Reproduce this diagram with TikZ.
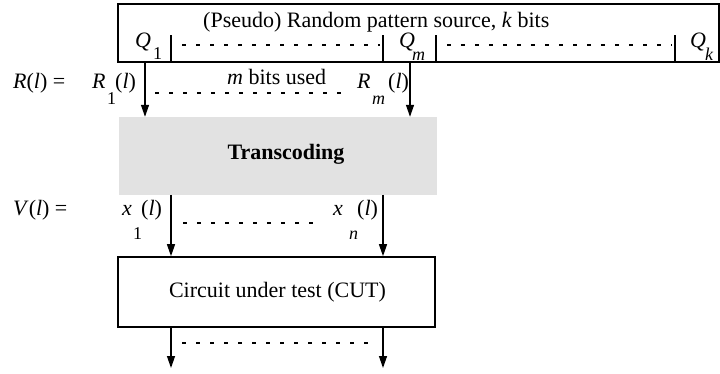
\documentclass[tikz,border=0pt]{standalone}
\usepackage{fontspec}
\setmainfont{Liberation Serif}
\usetikzlibrary{arrows.meta}
\definecolor{tgray}{RGB}{226,226,226}
\begin{document}
\begin{tikzpicture}[x=1pt,y=1pt,
  lbl/.style={inner sep=0,anchor=base west,font=\fontsize{22}{26}\selectfont},
  sbs/.style={inner sep=0,anchor=base west,font=\fontsize{18}{20}\selectfont\itshape},
  sbn/.style={inner sep=0,anchor=base west,font=\fontsize{18}{20}\selectfont},
  arr/.style={line width=1.3pt,-{Triangle[length=12pt,width=8pt]}},
  dots/.style={line width=1.6pt,dash pattern=on 4pt off 10pt},
  tick/.style={line width=1.3pt},
  boxst/.style={draw,line width=1.6pt,inner sep=0}]
\useasboundingbox (0,0) rectangle (720,-374);

% boxes
\node[boxst,minimum width=601pt,minimum height=58pt] (src) at (418.5,-33) {};
\node[fill=tgray,inner sep=0,minimum width=318pt,minimum height=78pt] (trans) at (278,-156) {};
\node[boxst,minimum width=317pt,minimum height=70pt] (cut) at (276.5,-292) {};

% texts in boxes
\node[lbl] (title) at (203,-28) {(Pseudo) Random pattern source, \textit{k} bits};
\node[lbl,anchor=base,font=\fontsize{22}{26}\selectfont\bfseries] (transtxt) at (286,-160) {Transcoding};
\node[lbl,anchor=base] (cuttxt) at (277.5,-297) {Circuit under test (CUT)};

% ticks in source box
\coordinate (t1) at (171,-62);
\coordinate (t2) at (383,-62);
\coordinate (t3) at (436,-62);
\coordinate (t4) at (675,-62);
\foreach \t in {t1,t2,t3,t4} \draw[tick] (\t) -- ++(0,27);

% Q labels
\node[lbl] (q1) at (135,-48) {\textit{Q}};
\node[sbn] (q1s) at (153,-60) {1};
\node[lbl] (qm) at (399,-48) {\textit{Q}};
\node[sbs] (qms) at (412,-61) {m};
\node[lbl] (qk) at (690,-48) {\textit{Q}};
\node[sbs] (qks) at (705,-61) {k};

% dotted in source box
\draw[dots] (182,-45) -- (380,-45);
\draw[dots] (447,-45) -- (672,-45);

% R(l) row
\node[lbl] (rl) at (13,-89) {\textit{R}(\textit{l}) =};
\node[lbl] (r1) at (92,-89) {\textit{R}};
\node[sbn] (r1s) at (107,-105) {1};
\node[lbl] (r1l) at (115,-89) {(\textit{l})};
\node[lbl] (mbits) at (227,-85) {\textit{m} bits used};
\node[lbl] (rm) at (357,-89) {\textit{R}};
\node[sbs] (rms) at (372,-105) {m};
\node[lbl] (rml) at (388,-89) {(\textit{l})};
\draw[dots] (155,-93) -- (345,-93);

% arrows source -> transcoding
\coordinate (a1) at (145,-62);
\coordinate (a2) at (410,-62);
\draw[arr] (a1) -- (a1 |- trans.north);
\draw[arr] (a2) -- (a2 |- trans.north);

% V(l) row
\node[lbl] (vl) at (13,-215) {\textit{V}(\textit{l}) =};
\node[lbl] (x1) at (122,-215) {\textit{x}};
\node[sbn] (x1s) at (133,-240) {1};
\node[lbl] (x1l) at (141,-215) {(\textit{l})};
\node[lbl] (xn) at (333,-215) {\textit{x}};
\node[sbs] (xns) at (349,-240) {n};
\node[lbl] (xnl) at (357,-215) {(\textit{l})};
\draw[dots] (183,-223) -- (320,-223);

% arrows transcoding -> CUT
\coordinate (b1) at (171,-195);
\coordinate (b2) at (383,-195);
\draw[arr] (b1) -- (b1 |- cut.north);
\draw[arr] (b2) -- (b2 |- cut.north);

% output arrows
\coordinate (c1) at (171,-327);
\coordinate (c2) at (383,-327);
\coordinate (o1) at (171,-368);
\coordinate (o2) at (383,-368);
\draw[arr] (c1) -- (o1);
\draw[arr] (c2) -- (o2);
\draw[dots] (182,-343) -- (372,-343);
\end{tikzpicture}
\end{document}
